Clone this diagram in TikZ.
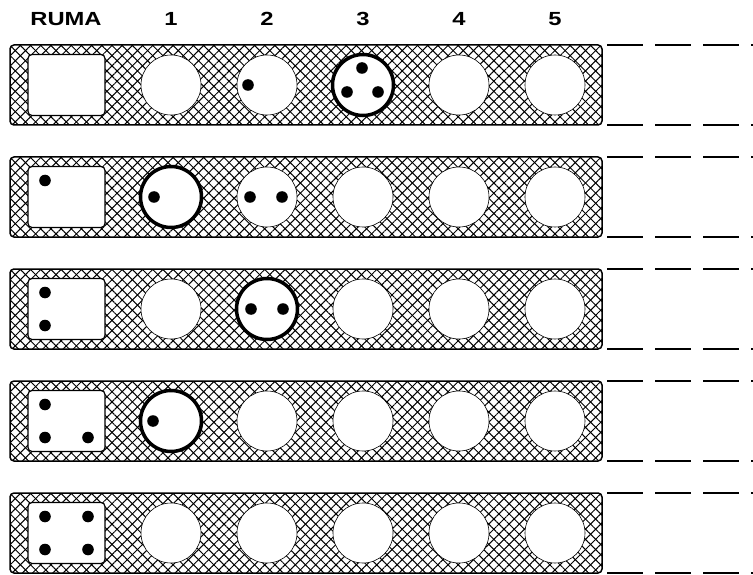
\documentclass[tikz,border=0pt]{standalone}
\usepackage{fontspec}
\setmainfont{Liberation Sans}
\usetikzlibrary{patterns.meta}
\tikzset{
  hatchA/.style={pattern={Lines[angle=45,distance=7.2pt,line width=1pt]}},
  hatchB/.style={pattern={Lines[angle=-45,distance=7.2pt,line width=1pt]}},
  board/.style={line width=1.5pt,rounded corners=4pt},
  store/.style={draw,line width=1.2pt,fill=white,rounded corners=4pt,
    minimum width=77pt,minimum height=61pt,inner sep=0pt},
  pit/.style={circle,draw,line width=0.6pt,fill=white,minimum size=60pt,inner sep=0pt},
  hot/.style={line width=3.5pt},
  seed/.style={fill=black},
  lbl/.style={font=\bfseries\fontsize{19}{19}\selectfont,xscale=1.25},
  rim/.style={line width=1.5pt,dash pattern=on 36pt off 12pt},
}
\begin{document}
\begin{tikzpicture}[x=1pt,y=-1pt]
\useasboundingbox (0,0) rectangle (753,575);
\node[lbl] (ruma) at (66,19) {RUMA};
\foreach \k in {1,...,5}
  \node[lbl] (h\k) at (75+96*\k,19) {\k};

\foreach \r in {1,...,5} {
  \pgfmathsetmacro\cy{85+112*(\r-1)}
  \path[hatchA,board] (10,\cy-40) rectangle (602,\cy+40);
  \path[hatchB,board] (10,\cy-40) rectangle (602,\cy+40);
  \draw[board] (10,\cy-40) rectangle (602,\cy+40);
  \draw[rim] (607,\cy-40) -- (753,\cy-40);
  \draw[rim] (607,\cy+40) -- (753,\cy+40);
  \node[store] (s\r) at (66.5,\cy) {};
  \foreach \k in {1,...,5}
    \node[pit] (p\r\k) at (75+96*\k,\cy) {};
}

% row 1
\fill[seed] ([shift={(-19,0)}]p12.center) circle (5.8);
\draw[hot] (p13.center) circle (30.5);
\foreach \dx/\dy in {-1/-17,-16/7,15/7}
  \fill[seed] ([shift={(\dx,\dy)}]p13.center) circle (5.8);

% row 2
\fill[seed] ([shift={(-21.5,-16.5)}]s2.center) circle (5.8);
\draw[hot] (p21.center) circle (30.5);
\fill[seed] ([shift={(-17,0)}]p21.center) circle (5.8);
\foreach \dx in {-17,15}
  \fill[seed] ([shift={(\dx,0)}]p22.center) circle (5.8);

% row 3
\foreach \dy in {-16.5,16.5}
  \fill[seed] ([shift={(-21.5,\dy)}]s3.center) circle (5.8);
\draw[hot] (p32.center) circle (30.5);
\foreach \dx in {-16,16}
  \fill[seed] ([shift={(\dx,0)}]p32.center) circle (5.8);

% row 4
\foreach \dx/\dy in {-21.5/-16.5,-21.5/16.5,21.5/16.5}
  \fill[seed] ([shift={(\dx,\dy)}]s4.center) circle (5.8);
\draw[hot] (p41.center) circle (30.5);
\fill[seed] ([shift={(-18,0)}]p41.center) circle (5.8);

% row 5
\foreach \dx/\dy in {-21.5/-16.5,21.5/-16.5,-21.5/16.5,21.5/16.5}
  \fill[seed] ([shift={(\dx,\dy)}]s5.center) circle (5.8);
\end{tikzpicture}
\end{document}
